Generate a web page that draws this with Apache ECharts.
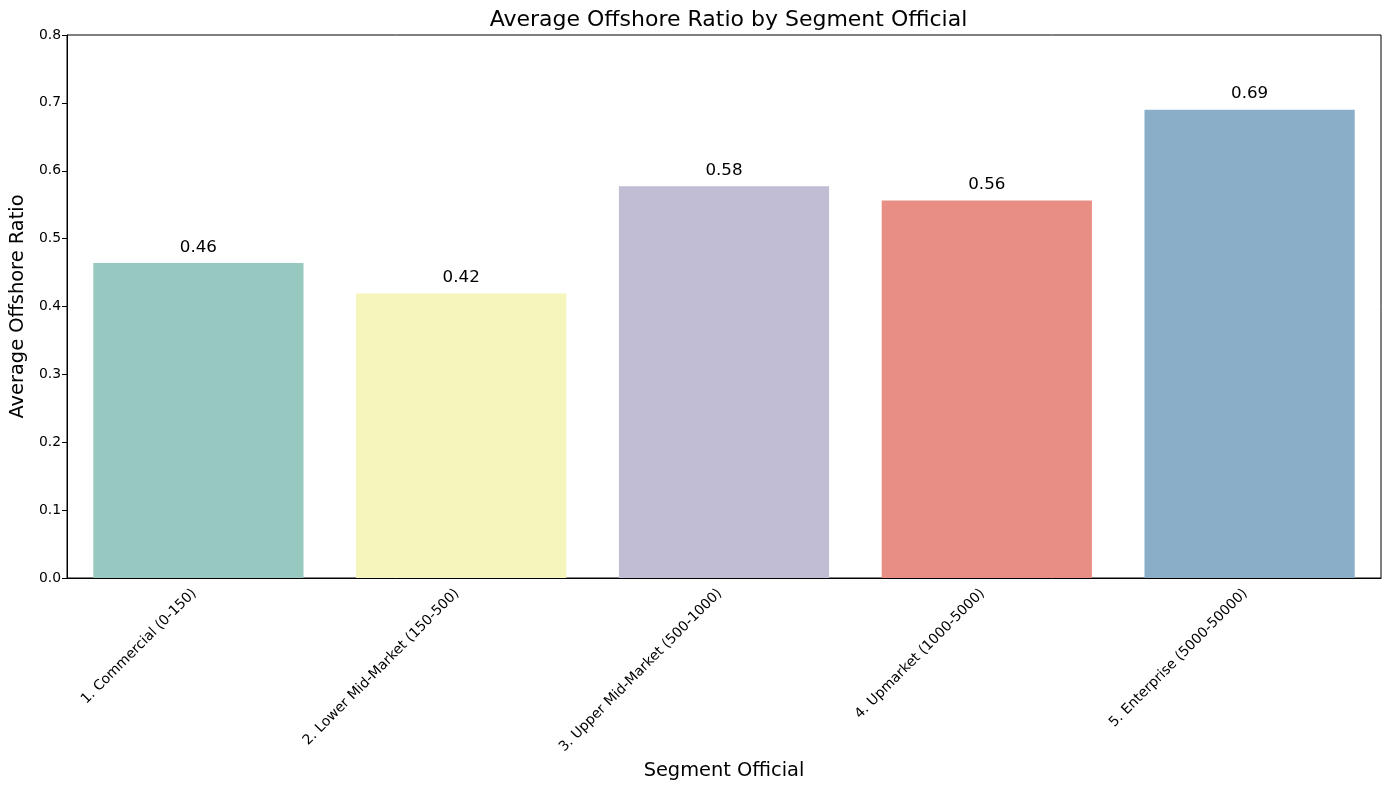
<!DOCTYPE html>
<html>
<head>
<meta charset="utf-8">
<script src="https://cdn.jsdelivr.net/npm/echarts@6/dist/echarts.min.js"></script>
<style>html,body{margin:0;padding:0;background:#fff}#c{width:1390px;height:790px}</style>
</head>
<body>
<div id="c"></div>
<script>
const categories = ["1. Commercial (0-150)", "2. Lower Mid-Market (150-500)", "3. Upper Mid-Market (500-1000)", "4. Upmarket (1000-5000)", "5. Enterprise (5000-50000)"];
const values = [0.464, 0.419, 0.577, 0.556, 0.690];
const barColors = ["#98c9c1", "#f5f5bc", "#c1bdd5", "#e88e84", "#8aaec8"];
const yTicks = [0.0, 0.1, 0.2, 0.3, 0.4, 0.5, 0.6, 0.7, 0.8];

const font = "DejaVu Sans";
const chart = echarts.init(document.getElementById('c'));
chart.setOption({
  animation: false,
  backgroundColor: '#fff',
  title: {
    text: 'Average Offshore Ratio by Segment Official',
    left: 723.5, top: 4, textAlign: 'center',
    textStyle: {fontFamily: font, fontSize: 22, fontWeight: 'normal', color: '#000'}
  },
  grid: {left: 66, right: 9, top: 35, bottom: 212, show: true, borderColor: '#000', borderWidth: 1},
  xAxis: {
    type: 'category', data: categories,
    name: 'Segment Official', nameLocation: 'middle', nameGap: 183,
    nameTextStyle: {fontFamily: font, fontSize: 19.4, color: '#000'},
    axisLine: {lineStyle: {color: '#000', width: 1}},
    axisTick: {alignWithLabel: true, length: 5, lineStyle: {color: '#000'}},
    axisLabel: {rotate: 45, margin: 9, padding: [0, 6, 0, 0], fontFamily: font, fontSize: 13.9, color: '#000', interval: 0},
    splitLine: {show: false}
  },
  yAxis: {
    type: 'value', min: 0, max: yTicks[yTicks.length - 1], interval: 0.1,
    name: 'Average Offshore Ratio', nameLocation: 'middle', nameGap: 40,
    nameTextStyle: {fontFamily: font, fontSize: 19.4, color: '#000'},
    axisLine: {show: true, lineStyle: {color: '#000', width: 1}},
    axisTick: {show: true, length: 5, lineStyle: {color: '#000'}},
    axisLabel: {fontFamily: font, fontSize: 13.9, color: '#000', margin: 6, formatter: v => v.toFixed(1)},
    splitLine: {show: false}
  },
  series: [{
    type: 'bar',
    data: values.map((v, i) => ({value: v, itemStyle: {color: barColors[i]}})),
    barWidth: '80%',
    label: {
      show: true, position: 'top', distance: 7,
      fontFamily: font, fontSize: 16.7, color: '#000',
      formatter: p => p.value.toFixed(2)
    }
  }]
});
</script>
</body>
</html>
